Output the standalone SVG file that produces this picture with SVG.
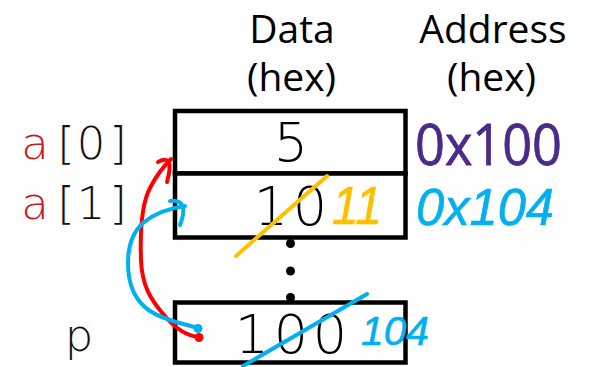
<svg xmlns="http://www.w3.org/2000/svg" width="591" height="367" viewBox="0 0 591 367">
  <style>
    .hdr { font-family: "Open Sans", "Liberation Sans", sans-serif; font-size: 39px; fill: #000; text-anchor: middle; }
    .cell { fill: #fff; stroke: #000; stroke-width: 4.5; }
    /* light fixed-pitch look: each glyph is centred on its own cell */
    .val { font-family: "DejaVu Sans", "Liberation Sans", sans-serif; font-weight: 200; font-size: 54px; fill: #000; text-anchor: middle; }
    .lbl { font-family: "DejaVu Sans", "Liberation Sans", sans-serif; font-weight: 200; font-size: 45px; fill: #111; text-anchor: middle; }
    .var { fill: #c81818; }
    .addr { font-family: "Open Sans", "Liberation Sans", sans-serif; font-size: 57px; fill: #4b2a8a; stroke: #4b2a8a; stroke-width: 0.8; }
    .ink-blue { fill: #00b0f0; stroke: #00b0f0; stroke-width: 0.6; stroke-linejoin: round; }
    .ink-gold { fill: #ffc000; stroke: #ffc000; stroke-width: 0.6; stroke-linejoin: round; }
    .hand { font-family: "Liberation Sans", "DejaVu Sans", sans-serif; font-style: italic; }
    .strike { fill: none; stroke-width: 4; stroke-linecap: round; }
    .wire { fill: none; stroke-width: 4; stroke-linecap: round; stroke-linejoin: round; }
  </style>

  <!-- column headings -->
  <g id="hdr-data">
    <text class="hdr" x="292" y="43">Data</text>
    <text class="hdr" x="291.5" y="91">(hex)</text>
  </g>
  <g id="hdr-address">
    <text class="hdr" x="493" y="43">Address</text>
    <text class="hdr" x="491.5" y="91">(hex)</text>
  </g>

  <!-- memory cells -->
  <g id="cell-a0">
    <rect class="cell" x="175" y="111" width="230.5" height="62.5"/>
    <text class="val" x="291" y="161">5</text>
  </g>
  <g id="cell-a1">
    <rect class="cell" x="175" y="173.5" width="230.5" height="64"/>
    <text class="val" x="271 310" y="225">10</text>
  </g>
  <g id="ellipsis">
    <circle cx="290.5" cy="243.5" r="4.5"/>
    <circle cx="290.5" cy="271" r="4.5"/>
    <circle cx="290.5" cy="297.5" r="4.5"/>
  </g>
  <g id="cell-p">
    <rect class="cell" x="175" y="302.5" width="230.5" height="60"/>
    <text class="val" x="252 291 330" y="353">100</text>
  </g>

  <!-- variable names -->
  <g id="label-a0">
    <text class="lbl" x="35 66 91 118" y="159"><tspan class="var">a</tspan>[0]</text>
  </g>
  <g id="label-a1">
    <text class="lbl" x="35 66 91 118" y="219"><tspan class="var">a</tspan>[1]</text>
  </g>
  <g id="label-p">
    <text class="lbl" x="79" y="351" fill="#0000ff">p</text>
  </g>

  <!-- addresses -->
  <g id="addr-a0">
    <text class="addr" x="415" y="165" textLength="147" lengthAdjust="spacingAndGlyphs">0x100</text>
  </g>
  <g id="addr-a1">
    <text class="hand ink-blue" x="416" y="225" font-size="52" textLength="138" lengthAdjust="spacingAndGlyphs">0x104</text>
  </g>

  <!-- hand edits: old values struck out, new values written beside -->
  <g id="edit-a1">
    <path class="strike" stroke="#ffc000" d="M236,256 L327,176"/>
    <text class="hand ink-gold" x="332" y="224" font-size="54" textLength="50" lengthAdjust="spacingAndGlyphs">11</text>
  </g>
  <g id="edit-p">
    <path class="strike" stroke="#00b0f0" d="M243,366 L367,294"/>
    <text class="hand ink-blue" x="361" y="345" font-size="40" textLength="68" lengthAdjust="spacingAndGlyphs">104</text>
  </g>

  <!-- pointer arrows from p -->
  <g id="connectors">
    <g id="ptr-old">
      <path class="wire" stroke="#ff0000" d="M199,337 C185,336 174,327 164,315 C150,299 142,285 141,260 C140,232 141,205 150,188 C156,176 164,166 171,159"/>
      <path class="wire" stroke="#ff0000" d="M158,162 Q175,153 167,182"/>
      <circle cx="199" cy="337.5" r="4.5" fill="#ff0000"/>
    </g>
    <g id="ptr-new">
      <path class="wire" stroke="#00b0f0" d="M198,328 C185,324 165,321 150,311 C135,301 128,285 128,263 C128,245 133,232 143,223 C155,213 170,208 185,206"/>
      <path class="wire" stroke="#00b0f0" d="M170,201 Q190,199 180,225"/>
      <circle cx="198" cy="328.5" r="4.5" fill="#00b0f0"/>
    </g>
  </g>
</svg>
